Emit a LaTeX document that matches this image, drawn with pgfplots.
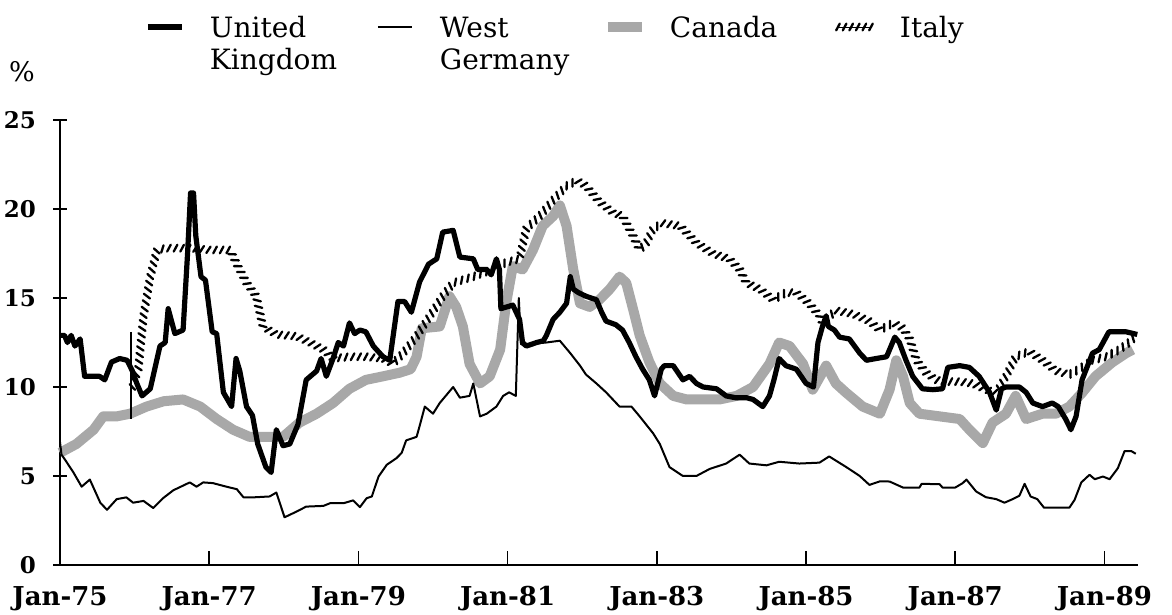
\documentclass[border=0pt]{standalone}
\usepackage{fontspec}
\setmainfont{DejaVu Serif}
\usepackage{pgfplots}
\pgfplotsset{compat=1.18}
\usetikzlibrary{decorations.markings}
\definecolor{canadagray}{gray}{0.66}
\tikzset{italyhatch/.style={draw=none, postaction={decorate}, decoration={markings,
  mark=between positions 0 and 1 step 3.3pt with {\draw[black, line width=1.15pt, line cap=round] (-0.9pt,-1.7pt) -- (0.9pt,1.7pt);}}}}
\begin{document}
\begin{tikzpicture}
\begin{axis}[
  name=ax, scale only axis, width=539pt, height=222.5pt,
  xmin=1975, xmax=1989.45, ymin=0, ymax=25,
  clip=false,
  axis lines=left, axis line style={-, line width=0.8pt},
  xtick={1975,1977,1979,1981,1983,1985,1987,1989},
  xticklabels={Jan-75,Jan-77,Jan-79,Jan-81,Jan-83,Jan-85,Jan-87,Jan-89},
  ytick={0,5,10,15,20,25},
  xtick align=inside, ytick align=center,
  major tick length=7pt,
  tick style={black, line width=0.8pt},
  /pgf/number format/assume math mode=true,
  xticklabel style={font=\fontsize{13}{15}\selectfont\bfseries, yshift=-7pt},
  yticklabel style={font=\fontsize{11.5}{14}\selectfont\bfseries, xshift=-5pt},
  legend columns=4,
  legend cell align=left,
  legend image code/.code={\pgfpathrectangle{\pgfpointorigin}{\pgfpoint{17pt}{11pt}}\pgfusepath{discard}\draw[#1, overlay] (0pt,5.5pt) -- (17pt,5.5pt);},
  legend style={at={(axis description cs:0.0816,1.2346)}, anchor=north west,
    draw=none, fill=none, inner sep=0pt, outer sep=0pt,
    font=\fontsize{14}{16}\selectfont,
    nodes={inner sep=0pt, outer sep=0pt, anchor=base west},
    column sep=0pt,
    /tikz/every odd column/.append style={column sep=14pt}},
]
\addlegendimage{black, line width=2.6pt}
\addlegendentry{\makebox[84pt][l]{\begin{tabular}[t]{@{}l@{}}United\\Kingdom\end{tabular}}}
\addlegendimage{black, line width=1pt}
\addlegendentry{\makebox[84pt][l]{\begin{tabular}[t]{@{}l@{}}West\\Germany\end{tabular}}}
\addlegendimage{canadagray, line width=5pt}
\addlegendentry{\makebox[84pt][l]{\begin{tabular}[t]{@{}l@{}}Canada\end{tabular}}}
\addlegendimage{italyhatch}
\addlegendentry{\makebox[84pt][l]{\begin{tabular}[t]{@{}l@{}}Italy\end{tabular}}}
% Canada
\addplot[canadagray, line width=5pt, line join=round, forget plot] coordinates {
(1975.00,6.3)(1975.22,6.8)(1975.45,7.6)(1975.58,8.35)(1975.76,8.35)(1975.94,8.5)(1976.16,8.9)(1976.39,9.2)(1976.65,9.3)(1976.88,8.9)(1977.10,8.2)(1977.32,7.6)(1977.54,7.2)(1977.77,7.2)(1977.99,7.2)(1978.21,8.0)(1978.44,8.5)(1978.66,9.1)(1978.88,9.9)(1979.10,10.4)(1979.33,10.6)(1979.55,10.8)(1979.70,11.0)(1979.78,11.7)(1979.85,13.3)(1980.09,13.4)(1980.22,15.1)(1980.31,14.5)(1980.40,13.4)(1980.49,11.3)(1980.63,10.2)(1980.76,10.6)(1980.90,12.1)(1980.98,14.7)(1981.07,16.8)(1981.20,16.6)(1981.34,17.7)(1981.47,19.05)(1981.61,19.6)(1981.70,20.2)(1981.79,19.05)(1981.88,16.6)(1981.97,14.7)(1982.10,14.5)(1982.23,14.9)(1982.37,15.5)(1982.50,16.2)(1982.59,15.85)(1982.68,14.4)(1982.77,12.9)(1982.90,11.4)(1983.04,10.2)(1983.22,9.5)(1983.40,9.3)(1983.84,9.3)(1984.07,9.5)(1984.29,10.0)(1984.51,11.3)(1984.64,12.5)(1984.78,12.3)(1984.96,11.3)(1985.09,9.85)(1985.27,11.2)(1985.40,10.2)(1985.54,9.67)(1985.76,8.9)(1985.99,8.5)(1986.12,9.85)(1986.21,11.5)(1986.30,10.6)(1986.39,9.1)(1986.52,8.5)(1986.79,8.35)(1987.06,8.2)(1987.19,7.6)(1987.37,6.85)(1987.50,8.0)(1987.68,8.5)(1987.81,9.5)(1987.95,8.2)(1988.17,8.5)(1988.35,8.5)(1988.53,8.9)(1988.70,9.67)(1988.88,10.6)(1989.11,11.4)(1989.29,11.9)(1989.38,12.1)
};
% Italy
\addplot[italyhatch, forget plot] coordinates {
(1975.97,10.0)(1976.05,11.0)(1976.12,14.0)(1976.21,16.2)(1976.30,17.7)(1976.43,17.8)(1976.74,17.8)(1977.01,17.7)(1977.28,17.7)(1977.37,16.9)(1977.50,15.85)(1977.63,15.1)(1977.72,13.4)(1977.90,12.95)(1978.17,12.85)(1978.35,12.5)(1978.53,12.1)(1978.66,11.6)(1978.88,11.7)(1979.10,11.7)(1979.33,11.6)(1979.46,11.3)(1979.60,11.9)(1979.78,12.85)(1979.96,14.0)(1980.13,15.1)(1980.27,15.85)(1980.54,16.2)(1980.80,16.6)(1980.98,17.0)(1981.16,17.2)(1981.25,18.9)(1981.43,19.6)(1981.61,20.5)(1981.79,21.3)(1981.93,21.6)(1982.05,21.3)(1982.23,20.4)(1982.41,19.8)(1982.54,19.6)(1982.68,18.5)(1982.77,17.7)(1982.86,18.1)(1982.95,18.9)(1983.08,19.2)(1983.31,19.05)(1983.53,18.1)(1983.75,17.5)(1983.97,17.2)(1984.11,16.6)(1984.20,15.85)(1984.38,15.5)(1984.56,14.9)(1984.73,15.3)(1984.87,15.3)(1985.04,14.7)(1985.18,14.0)(1985.22,13.6)(1985.40,14.3)(1985.63,14.1)(1985.85,13.7)(1985.99,13.2)(1986.17,13.6)(1986.30,13.3)(1986.39,12.7)(1986.48,11.5)(1986.61,10.8)(1986.74,10.4)(1986.88,10.3)(1987.06,10.3)(1987.23,10.2)(1987.41,9.85)(1987.55,9.67)(1987.68,10.6)(1987.81,11.7)(1987.99,12.0)(1988.17,11.5)(1988.35,10.9)(1988.53,10.7)(1988.66,11.0)(1988.84,11.5)(1989.02,11.7)(1989.20,12.1)(1989.33,12.5)(1989.44,12.95)
};
% West Germany
\addplot[black, line width=1pt, line join=round, forget plot] coordinates {
(1975.00,6.9)(1975.02,6.2)(1975.07,5.9)(1975.18,5.2)(1975.29,4.4)(1975.40,4.8)(1975.54,3.5)(1975.63,3.1)(1975.76,3.7)(1975.89,3.8)(1975.98,3.5)(1976.12,3.6)(1976.25,3.2)(1976.38,3.75)(1976.52,4.2)(1976.74,4.64)(1976.83,4.4)(1976.92,4.64)(1977.05,4.6)(1977.23,4.4)(1977.37,4.26)(1977.46,3.8)(1977.59,3.8)(1977.81,3.85)(1977.90,4.07)(1978.01,2.68)(1978.17,3.0)(1978.30,3.28)(1978.53,3.32)(1978.62,3.47)(1978.80,3.47)(1978.93,3.63)(1979.02,3.25)(1979.11,3.75)(1979.18,3.85)(1979.27,4.97)(1979.38,5.63)(1979.51,6.0)(1979.58,6.3)(1979.64,7.0)(1979.78,7.2)(1979.82,7.8)(1979.89,8.9)(1980.00,8.5)(1980.09,9.1)(1980.27,10.0)(1980.36,9.4)(1980.49,9.5)(1980.54,10.2)(1980.63,8.35)(1980.72,8.5)(1980.85,8.9)(1980.94,9.5)(1981.02,9.7)(1981.11,9.5)(1981.15,15.0)(1981.18,12.4)(1981.25,12.4)(1981.52,12.5)(1981.70,12.6)(1981.84,11.9)(1981.97,11.2)(1982.05,10.7)(1982.19,10.2)(1982.32,9.7)(1982.50,8.9)(1982.66,8.9)(1982.77,8.35)(1982.95,7.4)(1983.04,6.8)(1983.17,5.5)(1983.35,5.0)(1983.53,5.0)(1983.71,5.4)(1983.93,5.7)(1984.11,6.2)(1984.24,5.7)(1984.47,5.6)(1984.64,5.8)(1984.91,5.7)(1985.18,5.75)(1985.31,6.1)(1985.54,5.5)(1985.72,5.0)(1985.85,4.5)(1985.99,4.7)(1986.12,4.69)(1986.30,4.35)(1986.52,4.35)(1986.55,4.56)(1986.79,4.54)(1986.83,4.35)(1987.00,4.35)(1987.10,4.6)(1987.15,4.8)(1987.28,4.13)(1987.41,3.81)(1987.55,3.7)(1987.66,3.5)(1987.77,3.7)(1987.86,3.89)(1987.93,4.56)(1988.01,3.85)(1988.10,3.7)(1988.19,3.22)(1988.53,3.22)(1988.60,3.66)(1988.69,4.64)(1988.80,5.07)(1988.87,4.82)(1988.98,4.97)(1989.07,4.82)(1989.18,5.44)(1989.27,6.4)(1989.36,6.4)(1989.42,6.25)
};
% United Kingdom
\addplot[black, line width=2.6pt, line join=round, forget plot] coordinates {
(1975.00,12.9)(1975.06,12.9)(1975.10,12.5)(1975.15,12.9)(1975.20,12.3)(1975.27,12.7)(1975.33,10.6)(1975.53,10.6)(1975.60,10.4)(1975.69,11.4)(1975.80,11.6)(1975.90,11.5)(1975.97,10.9)(1976.03,10.2)(1976.10,9.5)(1976.21,9.9)(1976.34,12.3)(1976.41,12.5)(1976.45,14.4)(1976.54,13.0)(1976.65,13.2)(1976.71,17.5)(1976.75,20.9)(1976.79,20.9)(1976.82,18.5)(1976.89,16.2)(1976.95,16.0)(1977.04,13.1)(1977.10,13.0)(1977.19,9.7)(1977.30,8.9)(1977.36,11.6)(1977.41,10.9)(1977.50,8.9)(1977.58,8.4)(1977.65,6.8)(1977.76,5.5)(1977.83,5.2)(1977.90,7.6)(1977.99,6.7)(1978.08,6.8)(1978.19,7.9)(1978.30,10.4)(1978.44,10.9)(1978.50,11.6)(1978.57,10.6)(1978.66,11.6)(1978.73,12.5)(1978.80,12.3)(1978.88,13.6)(1978.95,13.0)(1979.02,13.2)(1979.10,13.1)(1979.20,12.3)(1979.33,11.7)(1979.42,11.5)(1979.53,14.8)(1979.62,14.8)(1979.71,14.2)(1979.82,15.9)(1979.94,16.9)(1980.05,17.2)(1980.13,18.7)(1980.27,18.8)(1980.36,17.3)(1980.54,17.2)(1980.60,16.6)(1980.72,16.6)(1980.78,16.3)(1980.85,17.2)(1980.89,16.6)(1980.91,14.4)(1981.07,14.6)(1981.16,13.8)(1981.20,12.5)(1981.25,12.3)(1981.39,12.5)(1981.48,12.6)(1981.52,12.9)(1981.61,13.8)(1981.70,14.2)(1981.79,14.7)(1981.84,16.2)(1981.88,15.5)(1981.95,15.3)(1982.05,15.1)(1982.19,14.9)(1982.26,14.2)(1982.32,13.7)(1982.45,13.5)(1982.54,13.2)(1982.63,12.5)(1982.72,11.7)(1982.81,11.0)(1982.90,10.4)(1982.97,9.5)(1983.06,11.0)(1983.10,11.2)(1983.22,11.2)(1983.35,10.4)(1983.44,10.6)(1983.53,10.2)(1983.62,10.0)(1983.80,9.9)(1983.93,9.5)(1984.05,9.4)(1984.20,9.4)(1984.29,9.3)(1984.42,8.9)(1984.51,9.5)(1984.57,10.4)(1984.64,11.6)(1984.73,11.2)(1984.87,11.0)(1985.00,10.2)(1985.10,10.0)(1985.16,12.5)(1985.22,13.4)(1985.27,14.0)(1985.30,13.4)(1985.38,13.2)(1985.45,12.8)(1985.58,12.7)(1985.72,11.9)(1985.81,11.5)(1985.94,11.6)(1986.08,11.7)(1986.19,12.8)(1986.25,12.5)(1986.34,11.5)(1986.43,10.6)(1986.56,9.9)(1986.70,9.85)(1986.83,9.9)(1986.90,11.1)(1987.06,11.2)(1987.19,11.1)(1987.32,10.6)(1987.46,9.7)(1987.55,8.7)(1987.62,9.9)(1987.68,10.0)(1987.86,10.0)(1987.95,9.7)(1988.04,9.1)(1988.17,8.9)(1988.30,9.1)(1988.38,8.9)(1988.48,8.2)(1988.55,7.6)(1988.62,8.35)(1988.70,10.4)(1988.84,11.9)(1988.93,12.1)(1989.06,13.1)(1989.29,13.1)(1989.44,12.95)
};
% thin break marker (late 1975)
\addplot[black, line width=0.8pt, forget plot] coordinates {(1975.95,13.1)(1975.95,8.2)};
\end{axis}
\node[font=\fontsize{13.5}{16}\selectfont] at ([shift={(-19pt,24pt)}]ax.north west) {\%};
\pgfresetboundingbox
\path ([shift={(-30pt,-25pt)}]ax.south west) rectangle ([shift={(17pt,60pt)}]ax.north east);
\end{tikzpicture}
\end{document}
